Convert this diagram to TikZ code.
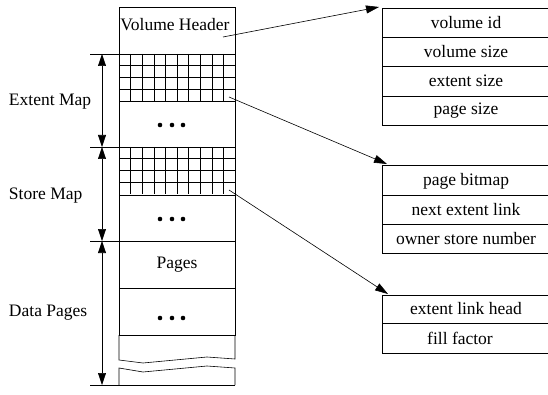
\documentclass[tikz,border=0pt]{standalone}
\usepackage{fontspec}
\setmainfont{Liberation Serif}
\usetikzlibrary{arrows.meta}
\begin{document}
\begin{tikzpicture}[x=1pt,y=-1pt,line width=0.6pt,
  txt/.style={inner sep=0pt,outer sep=0pt,font=\fontsize{17.5}{20}\selectfont},
  span/.style={{Triangle[length=12pt,width=8pt]}-{Triangle[length=12pt,width=8pt]}},
  ptr/.style={-{Triangle[length=13pt,width=8pt]}}]
\path[use as bounding box] (0,0) rectangle (548,395);
% volume column
\draw (119,7) rectangle (235,335);
\draw (90,54) -- (235,54);
\draw (119,101) -- (235,101);
\draw (90,147) -- (235,147);
\draw (119,195) -- (235,195);
\draw (90,241) -- (235,241);
\draw (119,288) -- (235,288);
\draw (119,335) -- (119,360) -- (143,363) -- (207,357) -- (235,359) -- (235,335);
\draw (119,385) -- (119,368) -- (143,372) -- (207,366) -- (235,368) -- (235,385);
\draw (90,385) -- (235,385);
% bitmap grids
\foreach \gy in {54,147}{
  \foreach \i in {1,2,3} \draw (119,\gy+11.75*\i) -- (235,\gy+11.75*\i);
  \foreach \i in {1,...,9} \draw (119+11.6*\i,\gy) -- (119+11.6*\i,\gy+47);
}
\foreach \dy in {125,219,318}
  \foreach \dx in {160,172,183} \fill (\dx,\dy) circle[radius=2.3];
\node[txt] (hdr) at (175,25) {Volume Header};
\node[txt] (pages) at (177,265) {Pages};
% extents on the left
\coordinate (em-top) at (102,54);
\coordinate (em-bot) at (102,147);
\coordinate (sm-bot) at (102,241);
\coordinate (dp-bot) at (102,385);
\draw[span] (em-top) -- (em-bot);
\draw[span] (em-bot) -- (sm-bot);
\draw[span] (sm-bot) -- (dp-bot);
\node[txt,anchor=west] (lbl-em) at (9,102) {Extent Map};
\node[txt,anchor=west] (lbl-sm) at (9,196) {Store Map};
\node[txt,anchor=west] (lbl-dp) at (9,313) {Data Pages};
% header fields
\draw (382,8) rectangle (552,125);
\draw (382,37) -- (552,37);
\draw (382,66) -- (552,66);
\draw (382,96) -- (552,96);
\node[txt] (vol-id) at (466,23) {volume id};
\node[txt] (vol-size) at (466,52) {volume size};
\node[txt] (ext-size) at (466,81) {extent size};
\node[txt] (pg-size) at (466,111) {page size};
% extent map entry
\draw (382,165) rectangle (552,253);
\draw (382,195) -- (552,195);
\draw (382,224) -- (552,224);
\node[txt] (pg-bitmap) at (466,181) {page bitmap};
\node[txt] (next-link) at (466,210) {next extent link};
\node[txt] (owner) at (466,239) {owner store number};
% store map entry
\draw (382,295) rectangle (552,353);
\draw (382,323) -- (552,323);
\node[txt] (link-head) at (466,309) {extent link head};
\node[txt] (fill) at (460,338) {fill factor};
% pointers
\coordinate (hdr-p) at (223,37);
\coordinate (em-p) at (229,97);
\coordinate (sm-p) at (229,190);
\coordinate (hdr-t) at (379,7);
\coordinate (em-t) at (387,164);
\coordinate (sm-t) at (388,294);
\draw[ptr] (hdr-p) -- (hdr-t);
\draw[ptr] (em-p) -- (em-t);
\draw[ptr] (sm-p) -- (sm-t);
\end{tikzpicture}
\end{document}
